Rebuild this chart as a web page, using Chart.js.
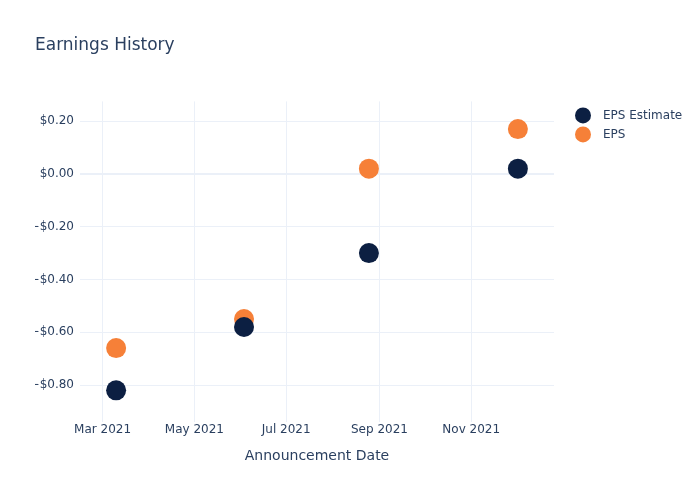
<!DOCTYPE html>
<html>
<head>
<meta charset="utf-8">
<script src="https://cdn.jsdelivr.net/npm/chart.js@4/dist/chart.umd.min.js"></script>
<style>
  html, body { margin: 0; padding: 0; background: #fff; }
  #wrap { width: 700px; height: 500px; }
</style>
</head>
<body>
<div id="wrap"><canvas id="chart"></canvas></div>
<script>
// Announcement dates and values
const dates = ['2021-03-10', '2021-06-03', '2021-08-25', '2021-12-02'];
const epsEstimate = [-0.82, -0.58, -0.30, 0.02];
const epsActual = [-0.66, -0.55, 0.02, 0.17];

// Axis ticks
const xTickDates = ['2021-03-01', '2021-05-01', '2021-07-01', '2021-09-01', '2021-11-01'];
const xTickLabels = ['Mar 2021', 'May 2021', 'Jul 2021', 'Sep 2021', 'Nov 2021'];
const yTicks = [-0.8, -0.6, -0.4, -0.2, 0, 0.2];

const toMs = s => Date.parse(s + 'T00:00:00Z');
const fmtMoney = v => (v < 0 ? '\u2212' : '') + '$' + Math.abs(v).toFixed(2);

const textColor = '#2a3f5f';
const gridColor = '#ebf0f8';
const font = 'DejaVu Sans, sans-serif';

// Simple legend drawn to the right of the plot
const sideLegend = {
    id: 'sideLegend',
    afterDraw(chart) {
        const ctx = chart.ctx;
        const x = chart.chartArea.right + 29;
        let y = chart.chartArea.top + 14;
        ctx.save();
        ctx.font = '12px ' + font;
        ctx.textBaseline = 'middle';
        chart.data.datasets.forEach(ds => {
            ctx.fillStyle = ds.backgroundColor;
            ctx.beginPath();
            ctx.arc(x, y, 8, 0, Math.PI * 2);
            ctx.fill();
            ctx.fillStyle = textColor;
            ctx.fillText(ds.label, x + 20, y);
            y += 19;
        });
        ctx.restore();
    }
};

const ctx = document.getElementById('chart');
new Chart(ctx, {
    type: 'scatter',
    data: {
        datasets: [
            {
                label: 'EPS Estimate',
                data: dates.map((d, i) => ({ x: toMs(d), y: epsEstimate[i] })),
                backgroundColor: '#0c1f42',
                borderWidth: 0,
                pointRadius: 10,
                pointHoverRadius: 10
            },
            {
                label: 'EPS',
                data: dates.map((d, i) => ({ x: toMs(d), y: epsActual[i] })),
                backgroundColor: '#f68038',
                borderWidth: 0,
                pointRadius: 10,
                pointHoverRadius: 10
            }
        ]
    },
    options: {
        responsive: true,
        maintainAspectRatio: false,
        animation: false,
        layout: { padding: { left: 35, right: 146, top: 0, bottom: 0 } },
        plugins: {
            legend: { display: false },
            tooltip: { enabled: false },
            title: {
                display: true,
                text: 'Earnings History',
                align: 'start',
                color: textColor,
                font: { family: font, size: 17, weight: 'normal' },
                padding: { top: 35, bottom: 46 }
            }
        },
        scales: {
            x: {
                type: 'linear',
                min: toMs('2021-02-14'),
                max: toMs('2021-12-26'),
                afterBuildTicks: axis => {
                    axis.ticks = xTickDates.map(d => ({ value: toMs(d) }));
                },
                afterFit: axis => { axis.height = 78; },
                ticks: {
                    color: textColor,
                    font: { family: font, size: 12 },
                    padding: 1,
                    maxRotation: 0,
                    autoSkip: false,
                    callback: (v) => xTickLabels[xTickDates.map(toMs).indexOf(v)]
                },
                grid: { color: gridColor, drawTicks: false },
                border: { display: false },
                title: {
                    display: true,
                    text: 'Announcement Date',
                    color: textColor,
                    font: { family: font, size: 14 },
                    padding: { top: 0, bottom: 35 }
                }
            },
            y: {
                min: -0.94,
                max: 0.275,
                afterBuildTicks: axis => {
                    axis.ticks = yTicks.map(v => ({ value: v }));
                },
                afterFit: axis => { axis.width = 45; },
                ticks: {
                    color: textColor,
                    font: { family: font, size: 12 },
                    padding: 6,
                    callback: v => fmtMoney(v)
                },
                grid: {
                    drawTicks: false,
                    color: c => gridColor,
                    lineWidth: c => (c.tick && c.tick.value === 0 ? 2 : 1)
                },
                border: { display: false }
            }
        }
    },
    plugins: [sideLegend]
});
</script>
</body>
</html>
